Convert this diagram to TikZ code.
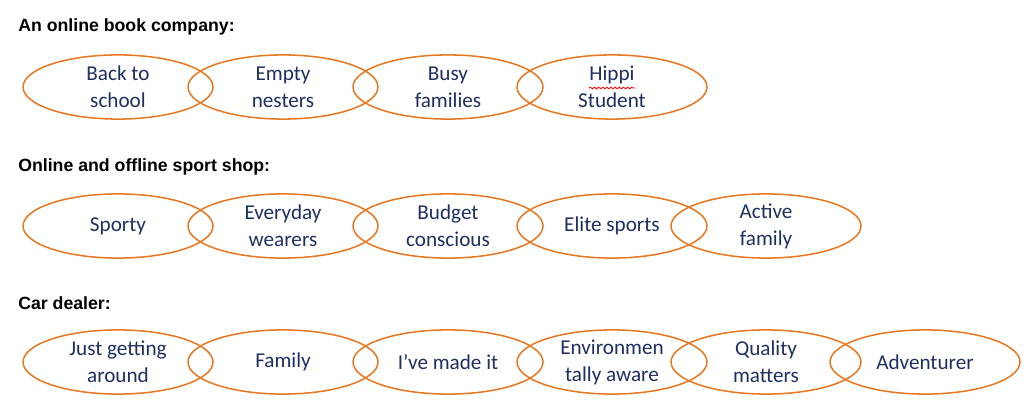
\documentclass[tikz,border=0pt]{standalone}
\usepackage{fontspec}
\setmainfont{Carlito}
\newfontfamily\headfont{Liberation Sans}
\usetikzlibrary{decorations.pathmorphing,shapes.geometric}
\begin{document}
\begin{tikzpicture}[x=0.0254cm,y=-0.0254cm,
  seg/.style={draw={rgb,255:red,232;green,119;blue,34},line width=1.1pt,ellipse,minimum width=4.826cm,minimum height=1.63cm,inner sep=0pt,align=center,font=\fontsize{15.3}{19.5}\selectfont,text={rgb,255:red,31;green,47;blue,95}},
  head/.style={anchor=west,inner sep=0pt,font=\headfont\bfseries\fontsize{12.8}{14}\selectfont}]
\useasboundingbox (0,0) rectangle (1024,419);
\node[head] (h1) at (18,27) {An online book company:};
\node[head] (h2) at (18,167) {Online and offline sport shop:};
\node[head] (h3) at (18,303) {Car dealer:};
\node[seg] (a1) at (118,87) {Back to\\school};
\node[seg] (a2) at (283,87) {Empty\\nesters};
\node[seg] (a3) at (448,87) {Busy\\families};
\node[seg] (a4) at (612,87) {Hippi\\Student};
\draw[red,line width=0.6pt,decorate,decoration={snake,amplitude=0.6pt,segment length=3pt}] (589,88) -- (635,88);
\node[seg] (b1) at (118,226) {Sporty};
\node[seg] (b2) at (283,226) {Everyday\\wearers};
\node[seg] (b3) at (448,226) {Budget\\conscious};
\node[seg] (b4) at (612,226) {Elite sports};
\node[seg] (b5) at (766,226) {Active\\family};
\node[seg] (c1) at (118,362) {Just getting\\around};
\node[seg] (c2) at (283,362) {Family};
\node[seg] (c3) at (448,362) {I’ve made it};
\node[seg] (c4) at (612,362) {Environmen\\tally aware};
\node[seg] (c5) at (766,362) {Quality\\matters};
\node[seg] (c6) at (925,362) {Adventurer};
\end{tikzpicture}
\end{document}
